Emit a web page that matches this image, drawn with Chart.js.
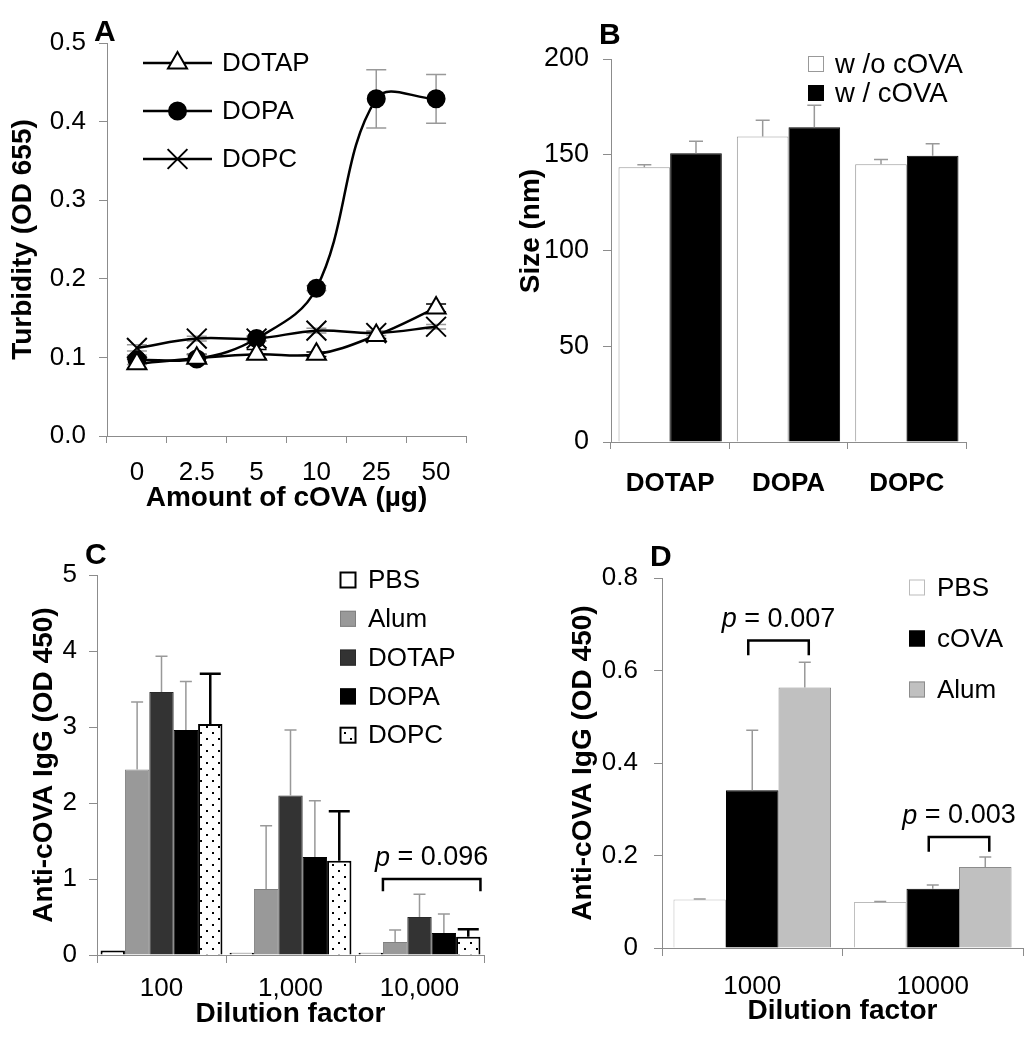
<!DOCTYPE html>
<html>
<head>
<meta charset="utf-8">
<script src="https://cdn.jsdelivr.net/npm/chart.js@4/dist/chart.umd.min.js"></script>
<style>
  body { margin: 0; background: #fff; width: 1034px; height: 1050px; position: relative; overflow: hidden; font-family: "Liberation Sans", Arial, sans-serif; }
  canvas { position: absolute; }
  .panel { position: absolute; font-weight: bold; font-size: 30px; line-height: 1; }
</style>
</head>
<body>
<canvas id="chartA" width="520" height="520" style="left:0;top:0"></canvas>
<canvas id="chartB" width="529" height="520" style="left:505px;top:0"></canvas>
<canvas id="chartC" width="520" height="530" style="left:0;top:520px"></canvas>
<canvas id="chartD" width="514" height="530" style="left:520px;top:520px"></canvas>
<div class="panel" style="left:94px;top:16px">A</div>
<div class="panel" style="left:599px;top:19px">B</div>
<div class="panel" style="left:85px;top:539px">C</div>
<div class="panel" style="left:650px;top:541px">D</div>
<script>
// ---- data ----
// A: turbidity vs amount of cOVA
const amountLabels = ['0', '2.5', '5', '10', '25', '50'];
const dotapTurb = [0.092, 0.099, 0.104, 0.104, 0.128, 0.163];
const dotapTurbErr = [0.006, 0.005, 0.006, 0.003, 0.004, 0.005];
const dopaTurb = [0.097, 0.098, 0.124, 0.188, 0.429, 0.429];
const dopaTurbErr = [0.006, 0.005, 0.003, 0.003, 0.037, 0.031];
const dopcTurb = [0.112, 0.124, 0.124, 0.134, 0.131, 0.139];
const dopcTurbErr = [0.004, 0.003, 0.003, 0.003, 0.003, 0.003];

// B: particle size
const lipidLabels = ['DOTAP', 'DOPA', 'DOPC'];
const sizeWithout = [143.5, 159.5, 145];
const sizeWithoutErr = [1.3, 8.5, 2.5];
const sizeWith = [150.8, 164.3, 149.5];
const sizeWithErr = [6.3, 11.5, 6.2];

// C: anti-cOVA IgG by formulation
const dilutionC = ['100', '1,000', '10,000'];
const igPbs = [0.06, 0.03, 0.03];
const igAlum = [2.44, 0.87, 0.17];
const igAlumErr = [0.89, 0.83, 0.16];
const igDotap = [3.46, 2.10, 0.50];
const igDotapErr = [0.47, 0.86, 0.30];
const igDopa = [2.96, 1.29, 0.29];
const igDopaErr = [0.64, 0.74, 0.25];
const igDopc = [3.04, 1.24, 0.24];
const igDopcErr = [0.66, 0.65, 0.10];
const pValuesC = [{cat: 2, from: 1, to: 4, y: 1.0, drop: 0.16, text: '0.096', edges: true}];

// D: anti-cOVA IgG, cOVA vs Alum
const dilutionD = ['1000', '10000'];
const dPbs = [0.105, 0.0995];
const dPbsErr = [0.001, 0.001];
const dCova = [0.341, 0.128];
const dCovaErr = [0.130, 0.008];
const dAlum = [0.563, 0.175];
const dAlumErr = [0.055, 0.022];
const pValuesD = [
  {cat: 0, from: 1, to: 2, y: 0.665, drop: 0.032, text: '0.007'},
  {cat: 1, from: 1, to: 2, y: 0.240, drop: 0.032, text: '0.003'}
];

// ---- shared setup ----
const FONT = '"Liberation Sans", Arial, sans-serif';
Chart.defaults.font.family = FONT;
Chart.defaults.color = '#000';
Chart.defaults.animation = false;
Chart.defaults.plugins.legend.display = false;
Chart.defaults.plugins.tooltip.enabled = false;

const axisGray = '#8c8c8c';
const titleFont = {size: 28, weight: 'bold'};

function yAxis(o) {
  const ticks = {stepSize: o.step, padding: o.pad, font: {size: o.fontSize || 26}};
  if (o.fmt) ticks.callback = o.fmt;
  return {
    min: o.min, max: o.max,
    afterFit: s => { s.width = o.width; },
    border: {color: axisGray, width: 1},
    grid: {drawOnChartArea: false, tickLength: 8, color: axisGray},
    ticks,
    title: {display: true, text: o.title, font: titleFont, padding: {top: o.titlePad, bottom: 0}}
  };
}

function xAxis(o) {
  return {
    offset: true,
    afterFit: s => { s.height = o.height; },
    border: {color: axisGray, width: 1},
    grid: {offset: true, drawOnChartArea: false, tickLength: o.tick || 8, color: axisGray},
    ticks: {padding: o.pad, font: o.font || {size: 26}, maxRotation: 0, autoSkip: false},
    title: o.title
      ? {display: true, text: o.title, font: titleFont, padding: {top: 0, bottom: o.titlePad}}
      : {display: false}
  };
}

function drawMarker(ctx, style, r, fill, lw, x, y) {
  ctx.save();
  ctx.lineWidth = lw;
  ctx.strokeStyle = '#000';
  ctx.fillStyle = fill;
  ctx.beginPath();
  if (style === 'circle') {
    ctx.arc(x, y, r, 0, Math.PI * 2);
    ctx.fill(); ctx.stroke();
  } else if (style === 'triangle') {
    for (let k = 0; k < 3; k++) {
      const a = -Math.PI / 2 + k * 2 * Math.PI / 3;
      const px = x + Math.cos(a) * r, py = y + Math.sin(a) * r;
      k ? ctx.lineTo(px, py) : ctx.moveTo(px, py);
    }
    ctx.closePath(); ctx.fill(); ctx.stroke();
  } else {
    const d = r * Math.SQRT1_2;
    ctx.moveTo(x - d, y - d); ctx.lineTo(x + d, y + d);
    ctx.moveTo(x - d, y + d); ctx.lineTo(x + d, y - d);
    ctx.stroke();
  }
  ctx.restore();
}

function drawErrors(chart) {
  const ctx = chart.ctx, ys = chart.scales.y;
  chart.data.datasets.forEach((ds, i) => {
    if (!ds.errors) return;
    const meta = chart.getDatasetMeta(i);
    ctx.save();
    ctx.strokeStyle = ds.errColor || '#999';
    ctx.lineWidth = ds.errWidth || 1.5;
    meta.data.forEach((el, j) => {
      const v = ds.data[j], e = ds.errors[j];
      if (!e) return;
      const half = (ds.capWidth || 12) / 2;
      const yTop = ys.getPixelForValue(v + e);
      const yBot = ds.errBoth ? ys.getPixelForValue(v - e) : el.y;
      ctx.beginPath();
      ctx.moveTo(el.x, yBot); ctx.lineTo(el.x, yTop);
      ctx.moveTo(el.x - half, yTop); ctx.lineTo(el.x + half, yTop);
      if (ds.errBoth) { ctx.moveTo(el.x - half, yBot); ctx.lineTo(el.x + half, yBot); }
      ctx.stroke();
    });
    ctx.restore();
  });
}

const errorBars = {
  id: 'errorBars',
  beforeDatasetsDraw(chart, args, o) { if (o.behind) drawErrors(chart); },
  afterDatasetsDraw(chart, args, o) { if (!o.behind) drawErrors(chart); }
};

// legend drawn at a fixed spot inside each panel
const panelLegend = {
  id: 'panelLegend',
  afterDraw(chart, args, o) {
    const ctx = chart.ctx;
    ctx.save();
    ctx.font = (o.fontSize || 26) + 'px ' + FONT;
    ctx.textBaseline = 'middle';
    chart.data.datasets.forEach((ds, i) => {
      const cy = o.y + i * o.rowH;
      if (o.lines) {
        ctx.strokeStyle = '#000';
        ctx.lineWidth = ds.borderWidth;
        ctx.beginPath();
        ctx.moveTo(o.x, cy); ctx.lineTo(o.x + o.lineLen, cy);
        ctx.stroke();
        drawMarker(ctx, ds.pointStyle, ds.pointRadius, ds.pointBackgroundColor, ds.pointBorderWidth, o.x + o.lineLen / 2, cy);
      } else {
        ctx.fillStyle = ds.backgroundColor;
        ctx.fillRect(o.x, cy - o.box / 2, o.box, o.box);
        ctx.strokeStyle = ds.legendBorder || ds.borderColor;
        ctx.lineWidth = ds.legendBorderWidth || 1;
        ctx.strokeRect(o.x + 0.5, cy - o.box / 2 + 0.5, o.box - 1, o.box - 1);
      }
      ctx.fillStyle = '#000';
      ctx.fillText(ds.label, o.textX, cy + 1);
    });
    ctx.restore();
  }
};

// significance brackets with "p = ..." text
const pBrackets = {
  id: 'pBrackets',
  afterDatasetsDraw(chart, args, o) {
    const ctx = chart.ctx, ys = chart.scales.y;
    o.items.forEach(b => {
      const a = chart.getDatasetMeta(b.from).data[b.cat];
      const c = chart.getDatasetMeta(b.to).data[b.cat];
      const x1 = b.edges ? a.x - a.width / 2 : a.x - 4;
      const x2 = b.edges ? c.x + c.width / 2 : c.x + 4;
      const yT = ys.getPixelForValue(b.y), yB = ys.getPixelForValue(b.y - b.drop);
      ctx.save();
      ctx.strokeStyle = '#000';
      ctx.lineWidth = 2.5;
      ctx.beginPath();
      ctx.moveTo(x1, yB); ctx.lineTo(x1, yT); ctx.lineTo(x2, yT); ctx.lineTo(x2, yB);
      ctx.stroke();
      const rest = ' = ' + b.text;
      ctx.font = 'italic 27px ' + FONT;
      const wp = ctx.measureText('p').width;
      ctx.font = '27px ' + FONT;
      const wr = ctx.measureText(rest).width;
      const sx = (x1 + x2) / 2 - (wp + wr) / 2, ty = yT - 21;
      ctx.fillStyle = '#000';
      ctx.textBaseline = 'middle';
      ctx.font = 'italic 27px ' + FONT;
      ctx.fillText('p', sx, ty);
      ctx.font = '27px ' + FONT;
      ctx.fillText(rest, sx + wp, ty);
      ctx.restore();
    });
  }
};

function dotPattern() {
  const c = document.createElement('canvas');
  c.width = 12; c.height = 12;
  const g = c.getContext('2d');
  g.fillStyle = '#fff'; g.fillRect(0, 0, 12, 12);
  g.fillStyle = '#000';
  g.fillRect(2, 2, 2, 2); g.fillRect(8, 8, 2, 2);
  return g.createPattern(c, 'repeat');
}

// ---- A ----
function lineSet(label, data, errors, style, r, fill, errColor) {
  return {
    label, data, errors, errBoth: true, errColor, errWidth: 1.5, capWidth: 20,
    borderColor: '#000', borderWidth: 2.5, tension: 0.38,
    pointStyle: style, pointRadius: r, pointBackgroundColor: fill,
    pointBorderColor: '#000', pointBorderWidth: 2
  };
}

new Chart(document.getElementById('chartA'), {
  type: 'line',
  data: {
    labels: amountLabels,
    datasets: [
      lineSet('DOTAP', dotapTurb, dotapTurbErr, 'triangle', 11, '#fff', '#000'),
      lineSet('DOPA', dopaTurb, dopaTurbErr, 'circle', 8.5, '#000', '#999'),
      lineSet('DOPC', dopcTurb, dopcTurbErr, 'crossRot', 14, '#fff', '#999')
    ]
  },
  options: {
    responsive: false,
    layout: {padding: {top: 43, right: 54, left: 0, bottom: 0}},
    scales: {
      x: xAxis({height: 84, pad: 14, tick: 7, title: 'Amount of cOVA (µg)', titlePad: 5}),
      y: yAxis({min: 0, max: 0.5, step: 0.1, width: 107, pad: 13, title: 'Turbidity (OD 655)', titlePad: 6, fmt: v => v.toFixed(1)})
    },
    plugins: {
      errorBars: {behind: true},
      panelLegend: {lines: true, x: 143, lineLen: 69, textX: 222, y: 63, rowH: 48}
    }
  },
  plugins: [errorBars, panelLegend]
});

// ---- B ----
new Chart(document.getElementById('chartB'), {
  type: 'bar',
  data: {
    labels: lipidLabels,
    datasets: [
      {label: 'w /o cOVA', data: sizeWithout, errors: sizeWithoutErr, backgroundColor: '#fff', borderColor: '#999', borderWidth: 1, errColor: '#999', errWidth: 1.5, capWidth: 14},
      {label: 'w / cOVA', data: sizeWith, errors: sizeWithErr, backgroundColor: '#000', borderColor: '#000', borderWidth: 1, errColor: '#999', errWidth: 1.5, capWidth: 14}
    ]
  },
  options: {
    responsive: false,
    layout: {padding: {top: 59, right: 68, left: 0, bottom: 0}},
    datasets: {bar: {categoryPercentage: 0.873, barPercentage: 1}},
    scales: {
      x: xAxis({height: 78, pad: 19, tick: 7, font: {size: 26, weight: 'bold'}}),
      // leading spaces nudge the title up, as in the original figure
      y: yAxis({min: 0, max: 200, step: 50, width: 106, pad: 14, fontSize: 27, title: '     Size (nm)', titlePad: 9})
    },
    plugins: {
      panelLegend: {x: 303, box: 16, textX: 330, y: 64, rowH: 29, fontSize: 27.5}
    }
  },
  plugins: [errorBars, panelLegend]
});

// ---- C ----
const dots = dotPattern();
new Chart(document.getElementById('chartC'), {
  type: 'bar',
  data: {
    labels: dilutionC,
    datasets: [
      {label: 'PBS', data: igPbs, backgroundColor: '#fff', borderColor: '#000', borderWidth: 2, legendBorderWidth: 2},
      {label: 'Alum', data: igAlum, errors: igAlumErr, backgroundColor: '#999', borderColor: '#808080', borderWidth: 1, capWidth: 12},
      {label: 'DOTAP', data: igDotap, errors: igDotapErr, backgroundColor: '#333', borderColor: '#2a2a2a', borderWidth: 1, capWidth: 12},
      {label: 'DOPA', data: igDopa, errors: igDopaErr, backgroundColor: '#000', borderColor: '#000', borderWidth: 1, capWidth: 12},
      {label: 'DOPC', data: igDopc, errors: igDopcErr, backgroundColor: dots, borderColor: '#000', borderWidth: 2, legendBorderWidth: 2, errColor: '#000', errWidth: 2.5, capWidth: 21}
    ]
  },
  options: {
    responsive: false,
    layout: {padding: {top: 55, right: 36, left: 0, bottom: 0}},
    datasets: {bar: {categoryPercentage: 0.945, barPercentage: 1}},
    scales: {
      x: xAxis({height: 95, pad: 10, tick: 8, title: 'Dilution factor', titlePad: 19}),
      y: yAxis({min: 0, max: 5, step: 1, width: 97, pad: 12, title: 'Anti-cOVA IgG (OD 450)', titlePad: 27})
    },
    plugins: {
      panelLegend: {x: 340, box: 16, textX: 368, y: 60, rowH: 38.8},
      pBrackets: {items: pValuesC}
    }
  },
  plugins: [errorBars, panelLegend, pBrackets]
});

// ---- D ----
new Chart(document.getElementById('chartD'), {
  type: 'bar',
  data: {
    labels: dilutionD,
    datasets: [
      {label: 'PBS', data: dPbs, errors: dPbsErr, backgroundColor: '#fff', borderColor: '#bbb', borderWidth: 1, capWidth: 12},
      {label: 'cOVA', data: dCova, errors: dCovaErr, backgroundColor: '#000', borderColor: '#000', borderWidth: 1, capWidth: 12},
      {label: 'Alum', data: dAlum, errors: dAlumErr, backgroundColor: '#c0c0c0', borderColor: '#8c8c8c', borderWidth: 1, capWidth: 12}
    ]
  },
  options: {
    responsive: false,
    layout: {padding: {top: 58, right: 11, left: 0, bottom: 0}},
    datasets: {bar: {categoryPercentage: 0.873, barPercentage: 1}},
    scales: {
      x: xAxis({height: 102, pad: 15, tick: 8, title: 'Dilution factor', titlePad: 22}),
      y: yAxis({min: 0, max: 0.8, step: 0.2, width: 142, pad: 16, title: 'Anti-cOVA IgG (OD 450)', titlePad: 46, fmt: v => v === 0 ? '0' : v.toFixed(1)})
    },
    plugins: {
      panelLegend: {x: 389, box: 16, textX: 417, y: 67.5, rowH: 51},
      pBrackets: {items: pValuesD}
    }
  },
  plugins: [errorBars, panelLegend, pBrackets]
});
</script>
</body>
</html>
